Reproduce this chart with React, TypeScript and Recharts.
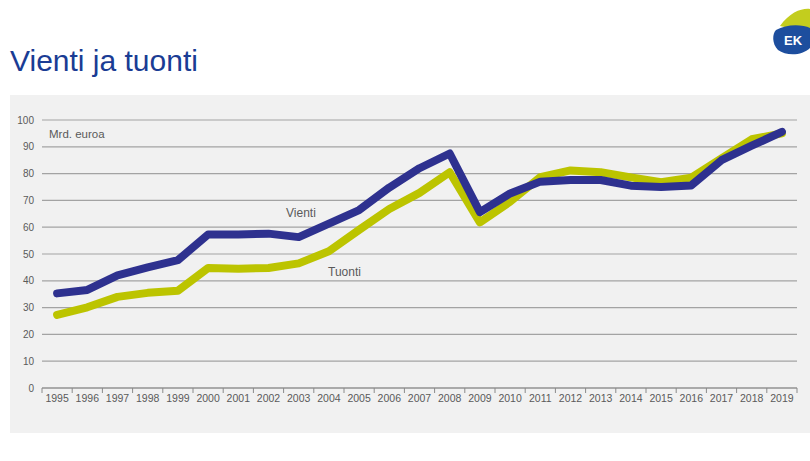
import React from 'react';
import { LineChart, Line, XAxis, YAxis, CartesianGrid } from 'recharts';

const years = ['1995', '1996', '1997', '1998', '1999', '2000', '2001', '2002', '2003', '2004', '2005', '2006', '2007', '2008', '2009', '2010', '2011', '2012', '2013', '2014', '2015', '2016', '2017', '2018', '2019'];
const vienti = [35.3, 36.6, 42, 45, 47.7, 57.3, 57.3, 57.6, 56.3, 61.3, 66.4, 74.8, 82, 87.5, 65.6, 72.6, 77, 77.6, 77.6, 75.5, 75, 75.6, 85, 90.4, 95.6];
const tuonti = [27.3, 30.1, 34, 35.5, 36.3, 44.8, 44.5, 44.8, 46.5, 51, 59, 66.8, 72.8, 80.5, 61.8, 69.5, 78.7, 81.2, 80.5, 78.6, 76.8, 78.5, 85.7, 92.8, 95];
const yTicks = [0, 10, 20, 30, 40, 50, 60, 70, 80, 90, 100];

const data = years.map((y, i) => ({ year: y, vienti: vienti[i], tuonti: tuonti[i] }));

const BLUE = '#2e318f';
const YELLOW = '#bcc400';
const AXIS = '#8a8a8a';
const TEXT = '#5a5a5a';

const band = 755 / years.length;

const YearTick = (props: any) => {
  const { x, y, payload, index } = props;
  const half = band / 2;
  const isLast = index === years.length - 1;
  return (
    <g>
      <line x1={x - half} y1={y - 8} x2={x - half} y2={y - 3} stroke={AXIS} strokeWidth={1} />
      {isLast && <line x1={x + half} y1={y - 8} x2={x + half} y2={y - 3} stroke={AXIS} strokeWidth={1} />}
      <text x={x} y={y + 6} textAnchor="middle" fontSize={10.5} fill={TEXT} fontFamily="Liberation Sans, Arial, sans-serif">
        {payload.value}
      </text>
    </g>
  );
};

const Logo = () => (
  <svg width={42} height={50} style={{ position: 'absolute', left: 768, top: 6 }}>
    <path d="M12 20 C22 6 34 2 42 3 L42 36 C34 28 24 22 12 20 Z" fill="#c3cd1e" />
    <path d="M8 24 C18 18 34 18 42 22 L42 42 C34 50 18 50 10 44 C4 38 4 28 8 24 Z" fill="#1d4e9e" />
    <text x={25} y={39} textAnchor="middle" fontSize={13} fontWeight="bold" fill="#fff" fontFamily="Liberation Sans, Arial, sans-serif">EK</text>
  </svg>
);

export default function App() {
  return (
    <div style={{ position: 'absolute', left: 0, top: 0, width: 810, height: 461, background: '#fff', fontFamily: 'Liberation Sans, Arial, sans-serif', overflow: 'hidden' }}>
      <Logo />
      <div style={{ position: 'absolute', left: 10, top: 44, fontSize: 30, color: '#1a3c94', whiteSpace: 'nowrap' }}>
        Vienti ja tuonti
      </div>
      <div style={{ position: 'absolute', left: 10, top: 95, width: 800, height: 338, background: '#f1f1f1' }}>
        <LineChart width={800} height={338} data={data} margin={{ top: 25, right: 13, left: 0, bottom: 15 }}>
          <CartesianGrid vertical={false} stroke="#a3a3a3" strokeWidth={1.2} />
          <XAxis
            dataKey="year"
            scale="band"
            axisLine={{ stroke: AXIS, strokeWidth: 1.2 }}
            tickLine={false}
            tick={<YearTick />}
            interval={0}
            height={30}
          />
          <YAxis
            domain={[0, 100]}
            ticks={yTicks}
            width={32}
            axisLine={false}
            tickLine={false}
            tick={{ fontSize: 10, fill: TEXT }}
            interval={0}
          />
          <Line type="linear" dataKey="tuonti" stroke={YELLOW} strokeWidth={8} dot={false} strokeLinejoin="round" strokeLinecap="round" isAnimationActive={false} />
          <Line type="linear" dataKey="vienti" stroke={BLUE} strokeWidth={8} dot={false} strokeLinejoin="round" strokeLinecap="round" isAnimationActive={false} />
        </LineChart>
        <div style={{ position: 'absolute', left: 39, top: 33, fontSize: 11.5, color: TEXT }}>Mrd. euroa</div>
        <div style={{ position: 'absolute', left: 276, top: 111, fontSize: 12, color: TEXT }}>Vienti</div>
        <div style={{ position: 'absolute', left: 318, top: 170, fontSize: 12, color: TEXT }}>Tuonti</div>
      </div>
    </div>
  );
}
